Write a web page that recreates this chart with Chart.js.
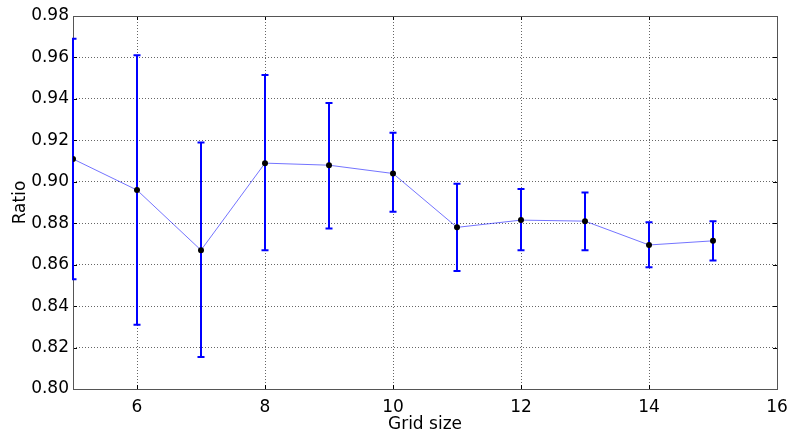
<!DOCTYPE html>
<html>
<head>
<meta charset="utf-8">
<script src="https://cdn.jsdelivr.net/npm/chart.js@4/dist/chart.umd.min.js"></script>
<style>
  html, body { margin: 0; padding: 0; background: #fff; }
  #wrap { width: 788px; height: 435px; }
</style>
</head>
<body>
<div id="wrap"><canvas id="c" width="788" height="435"></canvas></div>
<script>
// Grid sizes and the mean ratio at each, with the lower / upper ends of the error bars
const gridSizes = [5, 6, 7, 8, 9, 10, 11, 12, 13, 14, 15];
const meanRatio = [0.911, 0.896, 0.867, 0.909, 0.908, 0.904, 0.878, 0.8815, 0.881, 0.8695, 0.8715];
const lowerRatio = [0.853, 0.831, 0.8155, 0.867, 0.8775, 0.8855, 0.857, 0.867, 0.867, 0.8588, 0.862];
const upperRatio = [0.969, 0.961, 0.919, 0.9515, 0.938, 0.9237, 0.899, 0.8965, 0.8948, 0.8805, 0.881];

const xTicks = [6, 8, 10, 12, 14, 16];
const yTicks = [0.80, 0.82, 0.84, 0.86, 0.88, 0.90, 0.92, 0.94, 0.96, 0.98];

const FONT = "'DejaVu Sans', sans-serif";

// Axes frame with small inward tick marks, drawn under the data
function drawFrame(chart) {
  const { ctx, chartArea: a, scales: { x, y } } = chart;
  ctx.save();
  ctx.strokeStyle = '#000';
  ctx.lineWidth = 1;
  ctx.beginPath();
  x.ticks.forEach(t => {
    const px = Math.round(x.getPixelForValue(t.value)) + 0.5;
    ctx.moveTo(px, a.bottom); ctx.lineTo(px, a.bottom - 4);
    ctx.moveTo(px, a.top); ctx.lineTo(px, a.top + 4);
  });
  y.ticks.forEach(t => {
    const py = Math.round(y.getPixelForValue(t.value)) + 0.5;
    ctx.moveTo(a.left, py); ctx.lineTo(a.left + 4, py);
    ctx.moveTo(a.right, py); ctx.lineTo(a.right - 4, py);
  });
  ctx.stroke();
  ctx.strokeStyle = '#555';
  ctx.strokeRect(Math.round(a.left) + 0.5, Math.round(a.top) + 0.5,
                 Math.round(a.right - a.left), Math.round(a.bottom - a.top));
  ctx.restore();
}

// Vertical error bars with caps, placed through the chart's own scales
const errorBars = {
  id: 'errorBars',
  beforeDatasetsDraw(chart) {
    drawFrame(chart);
    const { ctx, chartArea: a, scales: { x, y } } = chart;
    ctx.save();
    ctx.beginPath();
    ctx.rect(a.left - 1, a.top, a.right - a.left + 1, a.bottom - a.top);
    ctx.clip();
    ctx.strokeStyle = '#0000ff';
    ctx.lineWidth = 2;
    gridSizes.forEach((g, i) => {
      const px = Math.round(x.getPixelForValue(g));
      const lo = y.getPixelForValue(lowerRatio[i]);
      const hi = y.getPixelForValue(upperRatio[i]);
      ctx.beginPath();
      ctx.moveTo(px, lo);
      ctx.lineTo(px, hi);
      ctx.moveTo(px - 3.5, lo);
      ctx.lineTo(px + 3.5, lo);
      ctx.moveTo(px - 3.5, hi);
      ctx.lineTo(px + 3.5, hi);
      ctx.stroke();
    });
    ctx.restore();
  }
};

const gridStyle = { color: 'rgba(0,0,0,0.6)', drawTicks: false, lineWidth: 1 };
const borderStyle = { display: false, dash: [1, 2] };

new Chart(document.getElementById('c'), {
  type: 'line',
  data: {
    datasets: [{
      data: gridSizes.map((g, i) => ({ x: g, y: meanRatio[i] })),
      borderColor: 'rgba(0,0,255,0.55)',
      borderWidth: 1,
      pointRadius: 3,
      pointBackgroundColor: '#000',
      pointBorderColor: '#000',
      pointBorderWidth: 0,
      tension: 0,
      clip: 0
    }]
  },
  options: {
    responsive: false,
    animation: false,
    events: [],
    layout: { padding: { top: 16, right: 11, left: 0, bottom: 0 } },
    plugins: { legend: { display: false }, tooltip: { enabled: false } },
    scales: {
      x: {
        type: 'linear',
        min: 5, max: 16,
        afterBuildTicks: s => { s.ticks = xTicks.map(v => ({ value: v })); },
        afterFit: s => { s.height = 46; s.paddingLeft = 0; s.paddingRight = 0; },
        border: borderStyle,
        grid: gridStyle,
        ticks: { color: '#000', font: { family: FONT, size: 17 }, padding: 8, maxRotation: 0,
                 callback: v => String(v) },
        title: { display: true, text: 'Grid size', color: '#000', font: { family: FONT, size: 17 },
                 padding: { top: 0, bottom: 0 } }
      },
      y: {
        type: 'linear',
        min: 0.80, max: 0.98,
        afterBuildTicks: s => { s.ticks = yTicks.map(v => ({ value: v })); },
        afterFit: s => { s.width = 73; s.paddingTop = 0; s.paddingBottom = 0; },
        border: borderStyle,
        grid: gridStyle,
        ticks: { color: '#000', font: { family: FONT, size: 17 }, padding: 4,
                 callback: v => Number(v).toFixed(2) },
        title: { display: true, text: 'Ratio', color: '#000', font: { family: FONT, size: 17 },
                 padding: { top: 10, bottom: 0 } }
      }
    }
  },
  plugins: [errorBars]
});
</script>
</body>
</html>
